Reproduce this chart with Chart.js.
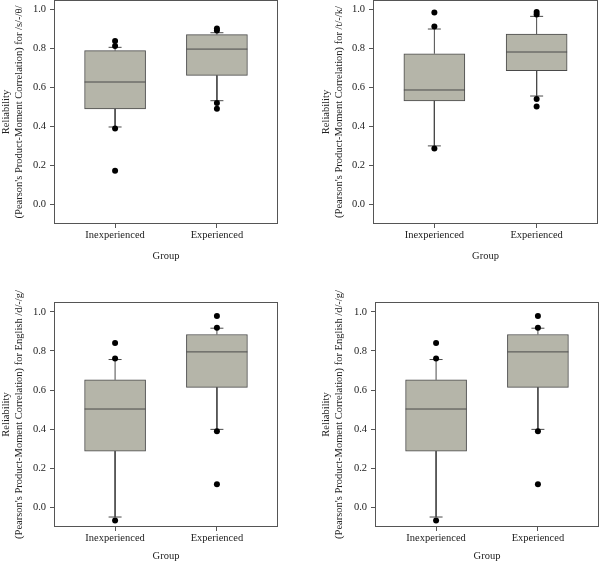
<!DOCTYPE html>
<html>
<head>
<meta charset="utf-8">
<script src="https://cdn.jsdelivr.net/npm/chart.js@4.4.1/dist/chart.umd.min.js"></script>
<style>
  body { margin: 0; background: #fff; }
  #wrap { position: relative; width: 600px; height: 564px; }
  canvas { position: absolute; }
</style>
</head>
<body>
<div id="wrap">
  <canvas id="c1" width="300" height="282" style="left:0;top:0"></canvas>
  <canvas id="c2" width="300" height="282" style="left:300px;top:0"></canvas>
  <canvas id="c3" width="300" height="282" style="left:0;top:282px"></canvas>
  <canvas id="c4" width="300" height="282" style="left:300px;top:282px"></canvas>
</div>
<script>
const groups = ["Inexperienced", "Experienced"];
const yTicks = [0, 0.2, 0.4, 0.6, 0.8, 1.0];

// /s/-/θ/
const sThLow = [0.398, 0.533];
const sThQ1 = [0.491, 0.663];
const sThMed = [0.629, 0.798];
const sThQ3 = [0.790, 0.872];
const sThHigh = [0.807, 0.882];
const sThOut = [[0.839, 0.814, 0.390, 0.174], [0.904, 0.894, 0.521, 0.492]];

// /t/-/k/
const tkLow = [0.301, 0.557];
const tkQ1 = [0.532, 0.687];
const tkMed = [0.588, 0.783];
const tkQ3 = [0.774, 0.875];
const tkHigh = [0.901, 0.966];
const tkOut = [[0.986, 0.914, 0.287], [0.988, 0.976, 0.542, 0.503]];

// English /d/-/g/
const dgLow = [-0.049, 0.399];
const dgQ1 = [0.288, 0.614];
const dgMed = [0.503, 0.795];
const dgQ3 = [0.652, 0.884];
const dgHigh = [0.756, 0.916];
const dgOut = [[0.841, 0.761, -0.067], [0.978, 0.918, 0.389, 0.118]];

const boxFill = "#b5b5a9";
const lineCol = "#4a4a4a";
const textCol = "#222";
const fontFam = "'Liberation Serif', 'Times New Roman', serif";

// frame round the plot area
const framePlugin = {
    id: "frame",
    beforeDatasetsDraw(chart) {
        const { ctx, chartArea: a } = chart;
        ctx.save();
        ctx.strokeStyle = "#555";
        ctx.lineWidth = 1;
        ctx.strokeRect(a.left + 0.5, a.top + 0.5, a.right - a.left - 1, a.bottom - a.top - 1);
        ctx.restore();
    }
};

function makePanel(id, title, low, q1, med, q3, high, outliers, lay) {
    const whiskers = [];
    const caps = [];
    groups.forEach((g, i) => {
        const x = i + 1;
        whiskers.push({ x: x, y: q3[i] }, { x: x, y: high[i] }, { x: x, y: null });
        whiskers.push({ x: x, y: q1[i] }, { x: x, y: low[i] }, { x: x, y: null });
        caps.push({ x: x, y: high[i] }, { x: x, y: low[i] });
    });
    const dots = outliers.flatMap((vals, i) => vals.map(v => ({ x: i + 1, y: v })));

    new Chart(document.getElementById(id), {
        type: "bar",
        data: {
            datasets: [
                {
                    type: "scatter",
                    data: dots,
                    pointRadius: 3,
                    pointBackgroundColor: "#000",
                    pointBorderWidth: 0,
                    clip: false,
                    order: 0
                },
                {
                    type: "scatter",
                    data: med.map((v, i) => ({ x: i + 1, y: v })),
                    pointStyle: "line",
                    pointRadius: 30.5,
                    borderColor: lineCol,
                    borderWidth: 1,
                    order: 1
                },
                {
                    type: "scatter",
                    data: caps,
                    pointStyle: "line",
                    pointRadius: 6.5,
                    borderColor: lineCol,
                    borderWidth: 1,
                    clip: false,
                    order: 2
                },
                {
                    type: "line",
                    data: whiskers,
                    borderColor: lineCol,
                    borderWidth: 1,
                    pointRadius: 0,
                    spanGaps: false,
                    clip: false,
                    order: 3
                },
                {
                    type: "bar",
                    data: q1.map((v, i) => ({ x: i + 1, y: [v, q3[i]] })),
                    backgroundColor: boxFill,
                    borderColor: lineCol,
                    borderWidth: 1,
                    borderSkipped: false,
                    barThickness: 61,
                    order: 4
                }
            ]
        },
        options: {
            responsive: false,
            animation: false,
            events: [],
            layout: { autoPadding: false, padding: { left: lay.left, right: lay.right, top: lay.top, bottom: 0 } },
            plugins: { legend: { display: false }, tooltip: { enabled: false } },
            scales: {
                x: {
                    type: "linear",
                    min: 0.4,
                    max: 2.6,
                    offset: false,
                    border: { display: false },
                    grid: { drawOnChartArea: false, offset: false, tickLength: 4, color: "#555" },
                    afterBuildTicks: s => { s.ticks = groups.map((g, i) => ({ value: i + 1 })); },
                    afterFit: s => { s.height = lay.xh; s.paddingLeft = 0; s.paddingRight = 0; },
                    ticks: {
                        padding: 1,
                        maxRotation: 0,
                        color: textCol,
                        font: { family: fontFam, size: 10.5 },
                        callback: v => groups[v - 1]
                    },
                    title: {
                        display: true,
                        text: "Group",
                        color: textCol,
                        font: { family: fontFam, size: 10.5, lineHeight: 1.2 },
                        padding: { top: 0, bottom: lay.gb }
                    }
                },
                y: {
                    type: "linear",
                    min: -0.1,
                    max: 1.05,
                    border: { display: false },
                    grid: { drawOnChartArea: false, tickLength: 4, color: "#555" },
                    afterBuildTicks: s => { s.ticks = yTicks.map(v => ({ value: v })); },
                    afterFit: s => { s.width = lay.yw; s.paddingTop = 0; s.paddingBottom = 0; },
                    ticks: {
                        padding: 4,
                        color: textCol,
                        font: { family: fontFam, size: 10.5 },
                        callback: v => v.toFixed(1)
                    },
                    title: {
                        display: true,
                        text: ["Reliability", title],
                        color: textCol,
                        font: { family: fontFam, size: 10.5, lineHeight: 1.25 },
                        padding: { top: 0, bottom: 0 }
                    }
                }
            }
        },
        plugins: [framePlugin]
    });
}

makePanel("c1", "(Pearson's Product-Moment Correlation) for /s/-/θ/",
    sThLow, sThQ1, sThMed, sThQ3, sThHigh, sThOut,
    { left: 0, right: 22, top: 0, yw: 54, xh: 58, gb: 19 });
makePanel("c2", "(Pearson's Product-Moment Correlation) for /t/-/k/",
    tkLow, tkQ1, tkMed, tkQ3, tkHigh, tkOut,
    { left: 20, right: 2, top: 0, yw: 53, xh: 58, gb: 19 });
makePanel("c3", "(Pearson's Product-Moment Correlation) for English /d/-/g/",
    dgLow, dgQ1, dgMed, dgQ3, dgHigh, dgOut,
    { left: 0, right: 22, top: 20, yw: 54, xh: 37, gb: 1 });
makePanel("c4", "(Pearson's Product-Moment Correlation) for English /d/-/g/",
    dgLow, dgQ1, dgMed, dgQ3, dgHigh, dgOut,
    { left: 20, right: 1, top: 20, yw: 55, xh: 37, gb: 1 });
</script>
</body>
</html>
